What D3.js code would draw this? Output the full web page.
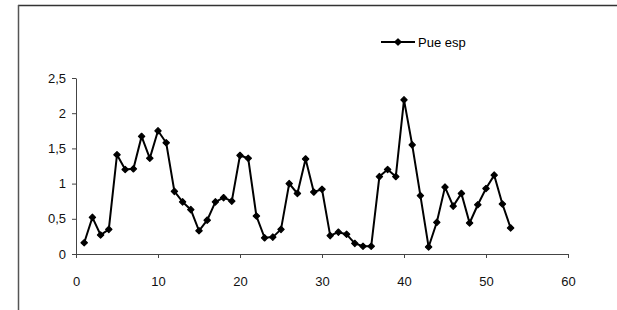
<!DOCTYPE html>
<html>
<head>
<meta charset="utf-8">
<script src="https://cdn.jsdelivr.net/npm/d3@7"></script>
<style>
  body { margin: 0; background: #fff; }
  svg { display: block; font-family: "Liberation Sans", Arial, sans-serif; }
  .axis path, .axis line { stroke: #444; }
  .axis text { font-size: 13px; fill: #111; }
</style>
</head>
<body>
<div id="chart"></div>
<script>
// Series data
var seriesName = "Pue esp";
var xValues = d3.range(1, 54);
var yValues = [0.16, 0.52, 0.27, 0.35, 1.41, 1.20, 1.21, 1.67, 1.36, 1.75,
               1.58, 0.89, 0.74, 0.63, 0.33, 0.48, 0.74, 0.80, 0.75, 1.40,
               1.36, 0.54, 0.23, 0.24, 0.35, 1.00, 0.86, 1.35, 0.88, 0.92,
               0.26, 0.31, 0.28, 0.15, 0.11, 0.11, 1.10, 1.20, 1.10, 2.19,
               1.55, 0.83, 0.10, 0.45, 0.95, 0.68, 0.86, 0.44, 0.70, 0.93,
               1.12, 0.71, 0.37];
var xTicks = [0, 10, 20, 30, 40, 50, 60];
var yTicks = [0, 0.5, 1, 1.5, 2, 2.5];

var W = 617, H = 310;
var margin = {left: 76, top: 78, right: 49, bottom: 56};
var width = W - margin.left - margin.right;
var height = H - margin.top - margin.bottom;

var svg = d3.select("#chart").append("svg")
    .attr("width", W)
    .attr("height", H);

// outer frame (top and left edges only are visible)
svg.append("line").attr("x1", 18).attr("x2", W).attr("y1", 5.5).attr("y2", 5.5)
    .attr("stroke", "#333").attr("stroke-width", 1.5);
svg.append("line").attr("x1", 18.5).attr("x2", 18.5).attr("y1", 5).attr("y2", H)
    .attr("stroke", "#555").attr("stroke-width", 1.5);

var g = svg.append("g")
    .attr("transform", "translate(" + margin.left + "," + margin.top + ")");

var x = d3.scaleLinear().domain([0, 60]).range([0, width]);
var y = d3.scaleLinear().domain([0, 2.5]).range([height, 0]);

var fmt = function (d) { return String(d).replace(".", ","); };

g.append("g")
    .attr("class", "axis")
    .attr("transform", "translate(0," + height + ")")
    .call(d3.axisBottom(x).tickValues(xTicks).tickSize(4).tickSizeOuter(0))
    .call(function (a) { a.selectAll("text").attr("dy", "1.9em"); });

g.append("g")
    .attr("class", "axis")
    .call(d3.axisLeft(y).tickValues(yTicks).tickFormat(fmt).tickSize(4).tickSizeOuter(0))
    .call(function (a) { a.selectAll("text").attr("x", -10); });

var pts = xValues.map(function (d, i) { return [d, yValues[i]]; });

var line = d3.line()
    .x(function (d) { return x(d[0]); })
    .y(function (d) { return y(d[1]); });

g.append("path")
    .datum(pts)
    .attr("fill", "none")
    .attr("stroke", "#000")
    .attr("stroke-width", 2)
    .attr("d", line);

// square turned 45 degrees, like the spreadsheet diamond marker
var marker = d3.symbol().type(d3.symbolSquare).size(20);

g.selectAll(".pt")
    .data(pts)
    .enter().append("path")
    .attr("class", "pt")
    .attr("transform", function (d) { return "translate(" + x(d[0]) + "," + y(d[1]) + ") rotate(45)"; })
    .attr("d", marker)
    .attr("fill", "#000")
    .attr("stroke", "#000")
    .attr("stroke-width", 1.2)
    .attr("stroke-linejoin", "round");

// legend
var lg = svg.append("g").attr("transform", "translate(381,42)");
lg.append("line").attr("x1", 0).attr("x2", 34).attr("y1", 0).attr("y2", 0)
    .attr("stroke", "#000").attr("stroke-width", 2);
lg.append("path").attr("transform", "translate(17,0) rotate(45)").attr("d", marker)
    .attr("fill", "#000").attr("stroke", "#000").attr("stroke-width", 1.2)
    .attr("stroke-linejoin", "round");
lg.append("text").attr("x", 37).attr("y", 0).attr("dy", "0.35em")
    .style("font-size", "13px").text(seriesName);
</script>
</body>
</html>
